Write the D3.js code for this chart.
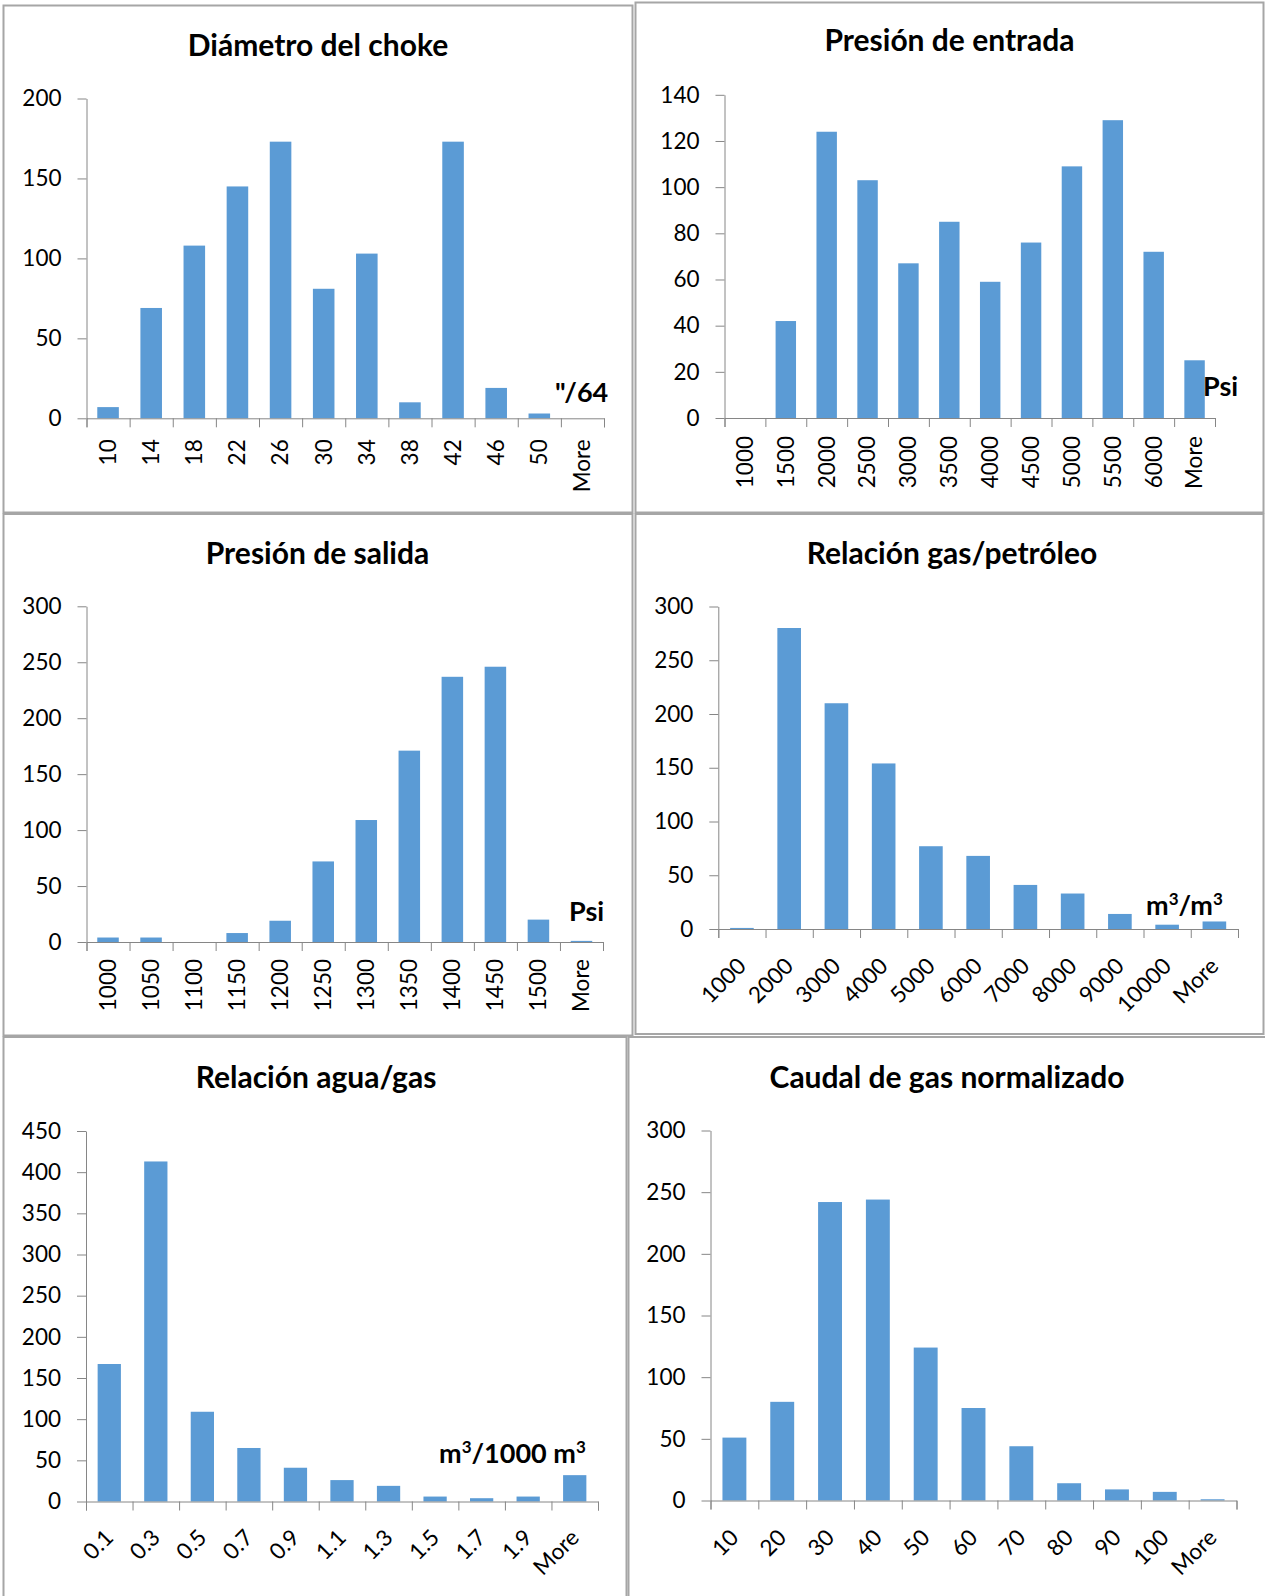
<!DOCTYPE html>
<html>
<head>
<meta charset="utf-8">
<script src="https://d3js.org/d3.v7.min.js"></script>
<style>
  body { margin: 0; background: #fff; }
  svg text { font-family: Lato, "Open Sans", sans-serif; }
</style>
</head>
<body>
<div id="chart"></div>
<script>
// counts per bin
var chokeBins = ["10", "14", "18", "22", "26", "30", "34", "38", "42", "46", "50", "More"];
var chokeCounts = [7, 69, 108, 145, 173, 81, 103, 10, 173, 19, 3, 0];
var chokeTicks = [0, 50, 100, 150, 200];

var entradaBins = ["1000", "1500", "2000", "2500", "3000", "3500", "4000", "4500", "5000", "5500", "6000", "More"];
var entradaCounts = [0, 42, 124, 103, 67, 85, 59, 76, 109, 129, 72, 25];
var entradaTicks = [0, 20, 40, 60, 80, 100, 120, 140];

var salidaBins = ["1000", "1050", "1100", "1150", "1200", "1250", "1300", "1350", "1400", "1450", "1500", "More"];
var salidaCounts = [4, 4, 0, 8, 19, 72, 109, 171, 237, 246, 20, 1];
var salidaTicks = [0, 50, 100, 150, 200, 250, 300];

var gorBins = ["1000", "2000", "3000", "4000", "5000", "6000", "7000", "8000", "9000", "10000", "More"];
var gorCounts = [1, 280, 210, 154, 77, 68, 41, 33, 14, 4, 7];
var gorTicks = [0, 50, 100, 150, 200, 250, 300];

var wgrBins = ["0.1", "0.3", "0.5", "0.7", "0.9", "1.1", "1.3", "1.5", "1.7", "1.9", "More"];
var wgrCounts = [167, 413, 109, 65, 41, 26, 19, 6, 4, 6, 32];
var wgrTicks = [0, 50, 100, 150, 200, 250, 300, 350, 400, 450];

var caudalBins = ["10", "20", "30", "40", "50", "60", "70", "80", "90", "100", "More"];
var caudalCounts = [51, 80, 242, 244, 124, 75, 44, 14, 9, 7, 1];
var caudalTicks = [0, 50, 100, 150, 200, 250, 300];

var titles = ["Diámetro del choke", "Presión de entrada", "Presión de salida",
              "Relación gas/petróleo", "Relación agua/gas", "Caudal de gas normalizado"];
// unit labels; "^" marks a superscript 3
var units = ["\"/64", "Psi", "Psi", "m^/m^", "m^/1000 m^", ""];

var width = 1265, height = 1596;
var barColor = "#5b9bd5", axisColor = "#868686", frameColor = "#a6a6a6";

var svg = d3.select("#chart")
  .append("svg")
  .attr("width", width)
  .attr("height", height);

// layout of each panel (frame, plot area, title, unit label)
var panels = [
  { bins: chokeBins, counts: chokeCounts, ticks: chokeTicks, title: titles[0], unit: units[0],
    box: [3.5, 5.5, 632.5, 512.5], x0: 86.5, x1: 604, yTop: 98.5, yBot: 418.3,
    titleX: 318, titleY: 56, unitX: 555, unitY: 402, rot: -90, lab: 21 },
  { bins: entradaBins, counts: entradaCounts, ticks: entradaTicks, title: titles[1], unit: units[1],
    box: [635.5, 2.5, 1263.5, 512.5], x0: 724.5, x1: 1215, yTop: 94.8, yBot: 418,
    titleX: 949.5, titleY: 51, unitX: 1203, unitY: 396, rot: -90, lab: 18 },
  { bins: salidaBins, counts: salidaCounts, ticks: salidaTicks, title: titles[2], unit: units[2],
    box: [3.5, 514, 632.5, 1035.5], x0: 86.5, x1: 603, yTop: 606.3, yBot: 942,
    titleX: 317.5, titleY: 564, unitX: 569, unitY: 921, rot: -90, lab: 17 },
  { bins: gorBins, counts: gorCounts, ticks: gorTicks, title: titles[3], unit: units[3],
    box: [635.5, 514, 1263.5, 1034], x0: 718.3, x1: 1238, yTop: 606.5, yBot: 929,
    titleX: 952, titleY: 564, unitX: 1146, unitY: 915, rot: -45, lab: 33 },
  { bins: wgrBins, counts: wgrCounts, ticks: wgrTicks, title: titles[4], unit: units[4],
    box: [3.5, 1037, 626.5, 1600], x0: 86, x1: 598, yTop: 1131, yBot: 1501.5,
    titleX: 316, titleY: 1088, unitX: 439, unitY: 1463, rot: -45, lab: 32 },
  { bins: caudalBins, counts: caudalCounts, ticks: caudalTicks, title: titles[5], unit: units[5],
    box: [628.5, 1037, 1270, 1600], x0: 710.5, x1: 1236.5, yTop: 1130.5, yBot: 1500.5,
    titleX: 947, titleY: 1088, unitX: 0, unitY: 0, rot: -45, lab: 33 }
];

panels.forEach(drawPanel);

function drawPanel(p) {
  // panel frame
  svg.append("rect")
    .attr("x", p.box[0])
    .attr("y", p.box[1])
    .attr("width", p.box[2] - p.box[0])
    .attr("height", p.box[3] - p.box[1])
    .attr("fill", "none")
    .attr("stroke", frameColor)
    .attr("stroke-width", 2);

  var x = d3.scaleBand()
    .domain(p.bins)
    .range([p.x0, p.x1])
    .paddingInner(0.5)
    .paddingOuter(0.25);

  var y = d3.scaleLinear()
    .domain([0, d3.max(p.ticks)])
    .range([p.yBot, p.yTop]);

  // bin edges, used for the category tick marks
  var edge = d3.scaleLinear()
    .domain([0, p.bins.length])
    .range([p.x0, p.x1]);

  svg.append("g")
    .selectAll("rect")
    .data(p.bins)
    .enter()
    .append("rect")
    .attr("x", function(d) { return x(d); })
    .attr("y", function(d, i) { return y(p.counts[i]); })
    .attr("width", x.bandwidth())
    .attr("height", function(d, i) { return p.yBot - y(p.counts[i]); })
    .attr("fill", barColor);

  // y axis
  var gy = svg.append("g")
    .attr("transform", "translate(" + p.x0 + ",0)")
    .call(d3.axisLeft(y).tickValues(p.ticks).tickSize(9).tickSizeOuter(0).tickPadding(16))
    .attr("color", axisColor)
    .attr("font-family", null)
    .attr("font-size", 22.5);
  gy.selectAll("text").attr("fill", "#000");

  // x axis line and tick marks at bin edges
  svg.append("g")
    .attr("transform", "translate(0," + p.yBot + ")")
    .call(d3.axisBottom(edge).tickValues(d3.range(p.bins.length + 1)).tickSize(9).tickFormat(""))
    .attr("color", axisColor);

  // category labels
  var gx = svg.append("g")
    .attr("transform", "translate(0," + p.yBot + ")")
    .call(d3.axisBottom(x).tickSize(0))
    .attr("font-family", null)
    .attr("font-size", 22.5);
  gx.select(".domain").remove();
  gx.selectAll("text")
    .attr("fill", "#000")
    .attr("x", 0)
    .attr("y", 0)
    .attr("dy", "0.35em")
    .attr("text-anchor", "end")
    .attr("transform", "translate(0," + p.lab + ") rotate(" + p.rot + ")");

  svg.append("text")
    .attr("x", p.titleX)
    .attr("y", p.titleY)
    .attr("text-anchor", "middle")
    .attr("font-size", 30)
    .attr("font-weight", "bold")
    .text(p.title);

  if (p.unit) {
    var u = svg.append("text")
      .attr("x", p.unitX)
      .attr("y", p.unitY)
      .attr("font-size", 27)
      .attr("font-weight", "bold");
    var parts = p.unit.split("^");
    parts.forEach(function(s, i) {
      if (i > 0) {
        u.append("tspan").attr("font-size", 17).attr("dy", -10).text("3");
        u.append("tspan").attr("dy", 10).text(s);
      } else {
        u.append("tspan").text(s);
      }
    });
  }
}
</script>
</body>
</html>
